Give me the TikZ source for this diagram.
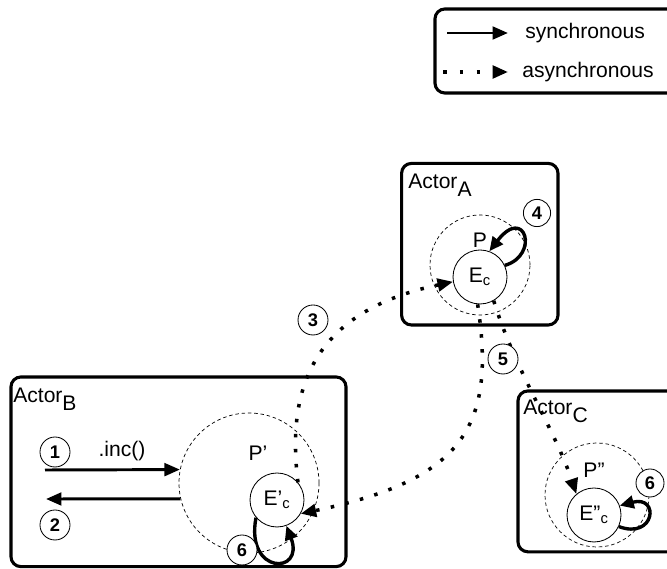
\documentclass[tikz,border=0pt]{standalone}
\usepackage{fontspec}
\setmainfont{Liberation Sans}
\usetikzlibrary{arrows.meta, positioning}
\newcommand{\actsub}[1]{\raisebox{-0.7ex}{#1}}

\begin{document}
\begin{tikzpicture}[
    box/.style={draw, line width=2.2pt, rounded corners=7pt},
    proc/.style={draw, circle, dash pattern=on 2.5pt off 2pt, line width=0.5pt, inner sep=0pt},
    evt/.style={draw, circle, fill=white, line width=0.6pt, minimum size=1.35cm, inner sep=0pt, font=\fontsize{15}{17}\selectfont},
    badge/.style={draw, circle, fill=white, line width=0.6pt, minimum size=0.75cm, inner sep=0pt, font=\bfseries\fontsize{13}{15}\selectfont},
    txt/.style={inner sep=0pt, font=\fontsize{15}{18}\selectfont},
    sync/.style={line width=2.1pt, -{Triangle[length=11pt,width=9pt]}},
    async/.style={line width=2.5pt, dash pattern=on 2.5pt off 8.2pt, -{Triangle[length=11pt,width=9pt]}},
    selfloop/.style={line width=2.4pt, -{Triangle[length=10pt,width=9pt]}}
]
    \useasboundingbox (0,0) rectangle (16.675,14.225);

    % Legend
    \draw[box] (10.875,11.9) rectangle (17.5,14.0);
    \coordinate (syncS) at (11.175,13.4);
    \coordinate (syncE) at (12.7,13.4);
    \coordinate (asyncS) at (11.075,12.425);
    \coordinate (asyncE) at (12.7,12.425);
    \draw[sync] (syncS) -- (syncE);
    \draw[async, dash pattern=on 2.5pt off 9.5pt] (asyncS) -- (asyncE);
    \node[txt, anchor=west, right=0.425cm of syncE] (synctxt) {synchronous};
    \node[txt, anchor=west, right=0.35cm of asyncE] (asynctxt) {asynchronous};

    % Actor boxes
    \draw[box] (10.04,6.1) rectangle (13.95,10.14);
    \draw[box] (0.275,0.06) rectangle (8.65,4.8);
    \draw[box] (12.95,0.43) rectangle (17.5,4.45);
    \node[txt, anchor=base west] (labA) at (10.2,9.5) {Actor\actsub{A}};
    \node[txt, anchor=base west] (labB) at (0.325,4.15) {Actor\actsub{B}};
    \node[txt, anchor=base west] (labC) at (13.075,3.85) {Actor\actsub{C}};

    % Processes and their event loops
    \node[proc, minimum size=2.5cm] (Pa) at (12.0,7.6) {};
    \node[proc, minimum size=3.5cm] (Pb) at (6.225,2.15) {};
    \node[proc, minimum size=2.6cm] (Pc) at (14.925,1.85) {};
    \node[evt] (Ea) at (12.0,7.3) {E\textsubscript{c}};
    \node[evt] (Eb) at (6.925,1.725) {E'\textsubscript{c}};
    \node[evt] (Ec) at (14.85,1.35) {E''\textsubscript{c}};
    \node[txt] (labPa) at (12.0,8.225) {P};
    \node[txt] (labPb) at (6.45,2.9) {P'};
    \node[txt] (labPc) at (14.85,2.475) {P''};

    % Call into P' and its return
    \coordinate (callin) at (1.125,2.475);
    \coordinate (retout) at (1.15,1.75);
    \draw[sync] (callin) -- (Pb.169);
    \draw[sync] (Pb.193) -- (retout);
    \node[txt] (inc) at (3.05,2.95) {.inc()};

    % Asynchronous messages
    \draw[async] (Eb.40) .. controls (7.125,4.725) and (8.0,6.475) .. (Ea.190);
    \draw[async] (Ea.265) .. controls (12.425,3.475) and (11.5,2.225) .. (Eb.330);
    \draw[async] (Ea.300) .. controls (12.875,4.975) and (13.875,3.475) .. (Ec.130);

    % Self messages
    \draw[selfloop] (Ea.25) .. controls (13.5,7.85) and (13.125,9.1) .. (Ea.70);
    \draw[selfloop] (Eb.220) .. controls (6.125,-0.15) and (7.625,-0.15) .. (Eb.290);
    \draw[selfloop] (Ec.335) .. controls (16.375,0.725) and (16.5,1.85) .. (Ec.20);

    % Step numbers
    \foreach \name/\x/\y/\num in {n1/1.375/2.925/1, n2/1.375/1.1/2, n3/7.825/6.225/3,
        n5/12.575/5.25/5, n6b/6.05/0.475/6} {
        \node[badge] (\name) at (\x,\y) {\num};
    }
    \node[badge, minimum size=0.68cm] (n4) at (13.425,8.9) {4};
    \node[badge, minimum size=0.7cm] (n6c) at (16.25,2.15) {6};
\end{tikzpicture}
\end{document}
